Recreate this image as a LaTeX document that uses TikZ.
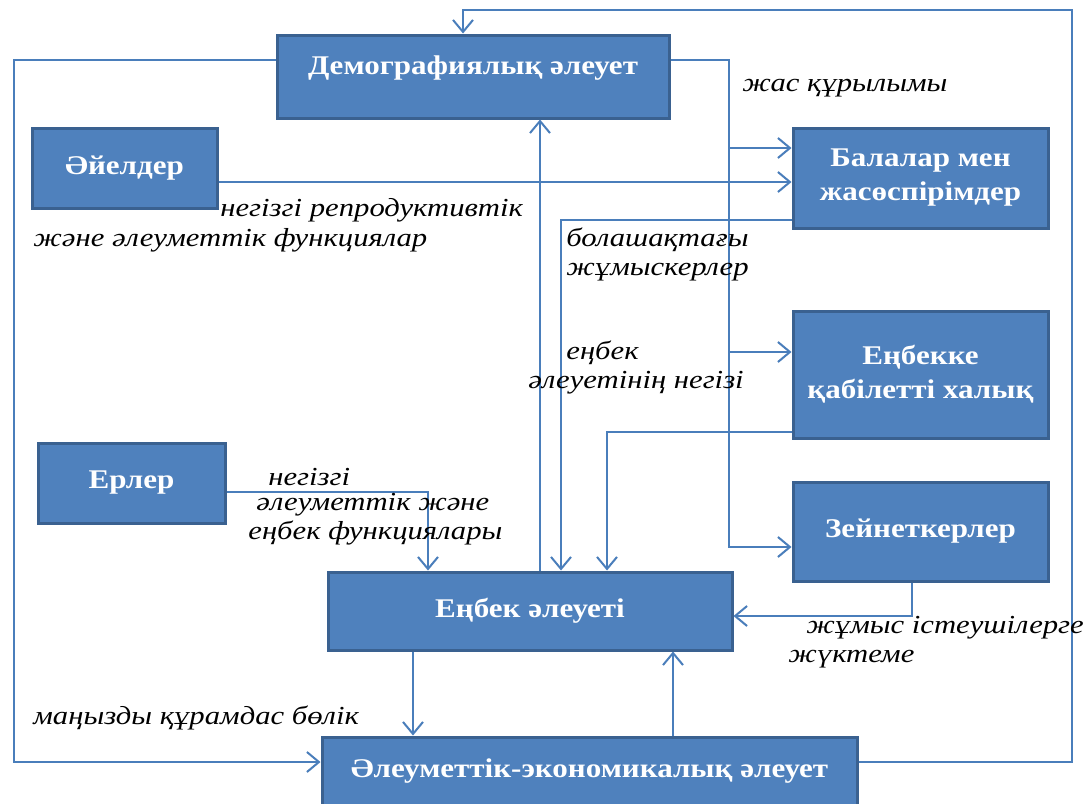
\documentclass[tikz,border=0pt]{standalone}
\usepackage{fontspec}
\setmainfont{Liberation Serif}
\newfontfamily\boxfont[FakeStretch=1.15]{Liberation Serif}
\newfontfamily\notefont[FakeStretch=1.18]{Liberation Serif}
\usetikzlibrary{arrows.meta,shadows}

\definecolor{boxblue}{HTML}{4F81BD}
\definecolor{boxedge}{HTML}{3A6190}
\definecolor{linkblue}{HTML}{4A7EBB}

\tikzset{
	block/.style={draw=boxedge, line width=1.5pt, fill=boxblue, text=white,
		font=\boxfont\bfseries\fontsize{13.5}{16}\selectfont, align=center, inner sep=0pt,
		drop shadow={shadow xshift=1pt, shadow yshift=-1pt, fill=black, opacity=.35}},
	link/.style={linkblue, line width=1pt, -{Straight Barb[length=6pt,width=10pt]}},
	note/.style={anchor=west, inner sep=0pt, align=left,
		font=\notefont\itshape\fontsize{13}{14.5}\selectfont}
}

\begin{document}
\begin{tikzpicture}[x=0.5pt, y=-0.5pt]
		\useasboundingbox (0,0) rectangle (1086,803);
		\fill[white] (0,0) rectangle (1086,803);
		
		% boxes
		\node[block, minimum width=196pt, minimum height=41.5pt, text depth=11pt] (dem) at (473,76.5) {Демографиялық әлеует};
		\node[block, minimum width=92.5pt, minimum height=40pt] (aiel) at (124.5,168) {Әйелдер};
		\node[block, minimum width=93.5pt, minimum height=40pt] (erler) at (131.5,483) {Ерлер};
		\node[block, minimum width=127.5pt, minimum height=50pt] (bala) at (920.5,178) {Балалар мен\\[1pt]жасөспірімдер};
		\node[block, minimum width=127.5pt, minimum height=63.5pt] (qabil) at (920.5,374.5) {Еңбекке\\[1pt]қабілетті халық};
		\node[block, minimum width=127.5pt, minimum height=49.5pt] (zein) at (920.5,531.5) {Зейнеткерлер};
		\node[block, minimum width=202pt, minimum height=39pt] (enbek) at (530,611) {Еңбек әлеуеті};
		\node[block, minimum width=267.5pt, minimum height=34pt] (aleum) at (589.5,771) {Әлеуметтік-экономикалық әлеует};
		
		% outer loops
		\draw[link] (dem.west |- 0,60) -| (14,762) -- (aleum.west |- 0,762);
		\draw[link] (aleum.east |- 0,762) -| (1072,10) -| (dem.north -| 463,0);
		
		% age structure
		\coordinate (ageA) at (729,148);
		\coordinate (ageB) at (729,352);
		\draw[link] (dem.east |- 0,60) -| (729,547) -- (zein.west |- 0,547);
		\draw[link] (ageA) -- (bala.west |- ageA);
		\draw[link] (ageB) -- (qabil.west |- ageB);
		
		\draw[link] (aiel.east |- 0,182) -- (bala.west |- 0,182);
		\draw[link, {Straight Barb[length=6pt,width=10pt]}-] (dem.south -| 540,0) -- (enbek.north -| 540,0);
		\draw[link] (bala.west |- 0,220) -| (enbek.north -| 561,0);
		\draw[link] (qabil.west |- 0,432) -| (enbek.north -| 607,0);
		\draw[link] (erler.east |- 0,492) -| (enbek.north -| 428,0);
		\draw[link] (zein.south -| 912,0) |- (enbek.east |- 0,616);
		\draw[link] (enbek.south -| 413,0) -- (aleum.north -| 413,0);
		\draw[link] (aleum.north -| 673,0) -- (enbek.south -| 673,0);
		
		% labels
		\node[note] (age) at (742,88) {жас құрылымы};
		\node[note] (repr) at (220,210) {негізгі репродуктивтік};
		\node[note] (func) at (33,240) {және әлеуметтік функциялар};
		\node[note] (future) at (566,254) {болашақтағы\\жұмыскерлер};
		\node[note] (base1) at (566,353) {еңбек};
		\node[note] (base2) at (528,383) {әлеуетінің негізі};
		\node[note] (men1) at (268,477) {негізгі};
		\node[note] (men2) at (256,505) {әлеуметтік және};
		\node[note] (men3) at (248,533) {еңбек функциялары};
		\node[note] (load1) at (806,628) {жұмыс істеушілерге};
		\node[note] (load2) at (788,659) {жүктеме};
		\node[note] (part) at (33,718) {маңызды құрамдас бөлік};

	\end{tikzpicture}
\end{document}
